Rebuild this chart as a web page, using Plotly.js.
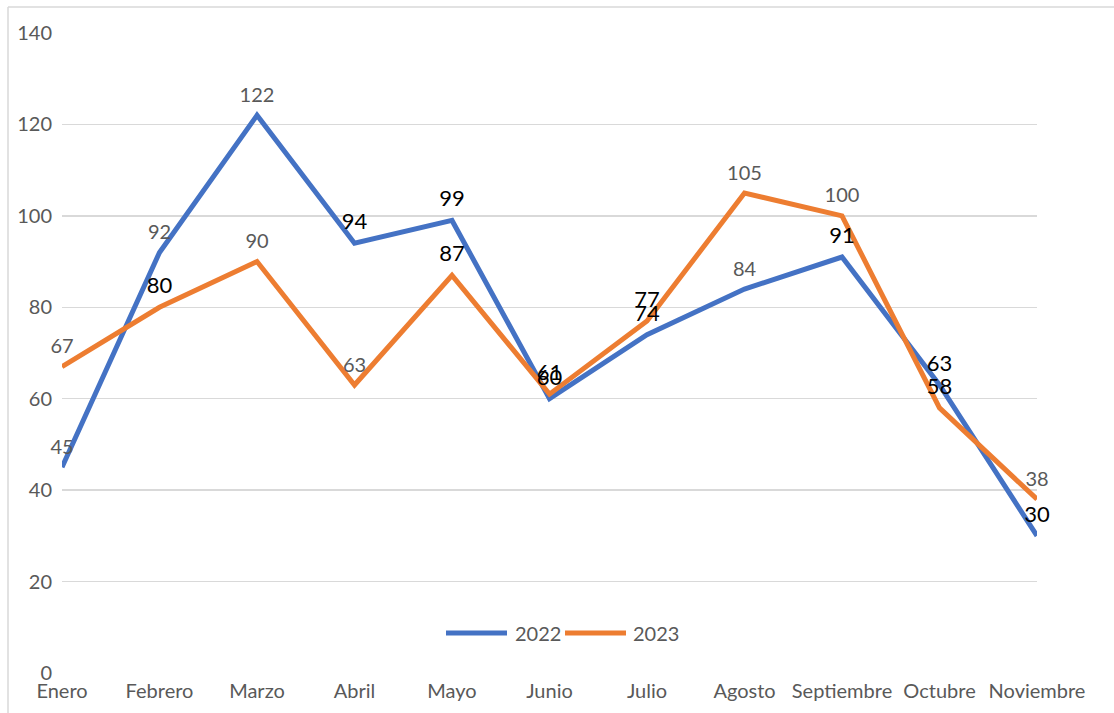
<!DOCTYPE html>
<html>
<head>
<meta charset="utf-8">
<script src="https://cdn.plot.ly/plotly-3.0.1.min.js"></script>
<style>html,body{margin:0;padding:0;background:#fff;}#chart{width:1114px;height:713px;}</style>
</head>
<body>
<div id="chart"></div>
<script>
const months = ["Enero","Febrero","Marzo","Abril","Mayo","Junio","Julio","Agosto","Septiembre","Octubre","Noviembre"];
const values2022 = [45, 92, 122, 94, 99, 60, 74, 84, 91, 63, 30];
const values2023 = [67, 80, 90, 63, 87, 61, 77, 105, 100, 58, 38];
// label style per point: true = black larger label, false = gray label
const dark2022 = [false, false, false, true, true, true, true, false, true, true, true];
const dark2023 = [false, true, false, false, true, true, true, false, false, true, false];
const yTicks = [0, 20, 40, 60, 80, 100, 120, 140];
const seriesNames = ["2022", "2023"];
const seriesColors = ["#4472C4", "#ED7D31"];

const FONT = "Lato, 'Open Sans', sans-serif";
const xIdx = months.map((m, i) => i);
function fontFor(flags) {
  return {
    family: FONT,
    color: flags.map(d => d ? "#000000" : "#595959"),
    size: flags.map(d => d ? 22 : 20)
  };
}
const allVals = [values2022, values2023];
const allDark = [dark2022, dark2023];

// lines first
const lineTraces = allVals.map((vals, k) => ({
  x: xIdx, y: vals, name: seriesNames[k], type: "scatter", mode: "lines",
  line: {color: seriesColors[k], width: 5}, hoverinfo: "skip"
}));
// data labels on top of all lines
const labelTraces = allVals.map((vals, k) => ({
  x: xIdx, y: vals, name: seriesNames[k] + " labels", type: "scatter", mode: "markers+text",
  marker: {size: 12, opacity: 0, color: seriesColors[k]},
  text: vals.map(String), textposition: "top center",
  textfont: fontFor(allDark[k]), cliponaxis: false, hoverinfo: "skip"
}));

// custom legend (line samples + names), positioned in pixels
const W = 975, H = 640, L = 62, T = 33;
const px = x => (x - L) / W;
const py = y => (T + H - y) / H;
const legendY = 633;
const legendItems = [{x0: 446, x1: 507, tx: 513}, {x0: 565, x1: 626, tx: 631}];

const shapes = [
  {type: "line", xref: "paper", yref: "paper", x0: px(8), x1: px(1120),
   y0: py(7), y1: py(7), line: {color: "#D9D9D9", width: 1.5}},
  {type: "line", xref: "paper", yref: "paper", x0: px(8), x1: px(8),
   y0: py(7), y1: py(720), line: {color: "#D9D9D9", width: 1.5}}
];
const annotations = [];
legendItems.forEach((it, k) => {
  shapes.push({type: "line", xref: "paper", yref: "paper", x0: px(it.x0), x1: px(it.x1),
    y0: py(legendY), y1: py(legendY), line: {color: seriesColors[k], width: 5}});
  annotations.push({xref: "paper", yref: "paper", x: px(it.tx), y: py(legendY),
    xanchor: "left", yanchor: "middle", text: seriesNames[k], showarrow: false,
    font: {family: FONT, size: 20, color: "#595959"}});
});

const layout = {
  width: 1114, height: 713,
  margin: {l: L, r: 1114 - L - W, t: T, b: 713 - T - H},
  paper_bgcolor: "#ffffff", plot_bgcolor: "#ffffff",
  font: {family: FONT, color: "#595959", size: 20},
  showlegend: false,
  xaxis: {
    type: "linear", range: [0, 10], tickmode: "array", tickvals: xIdx, ticktext: months,
    showgrid: false, zeroline: false, showline: false, ticks: "", fixedrange: true,
    ticklabelstandoff: 4, tickfont: {family: FONT, size: 20, color: "#595959"}
  },
  yaxis: {
    range: [0, 140], tickmode: "array", tickvals: yTicks, ticktext: yTicks.map(String),
    showgrid: true, gridcolor: "#D9D9D9", gridwidth: 1.5, zeroline: false, showline: false,
    ticks: "", ticklabelstandoff: 9, tickfont: {family: FONT, size: 20, color: "#595959"}
  },
  shapes: shapes,
  annotations: annotations
};

Plotly.newPlot("chart", lineTraces.concat(labelTraces), layout, {displayModeBar: false, staticPlot: true});
</script>
</body>
</html>
